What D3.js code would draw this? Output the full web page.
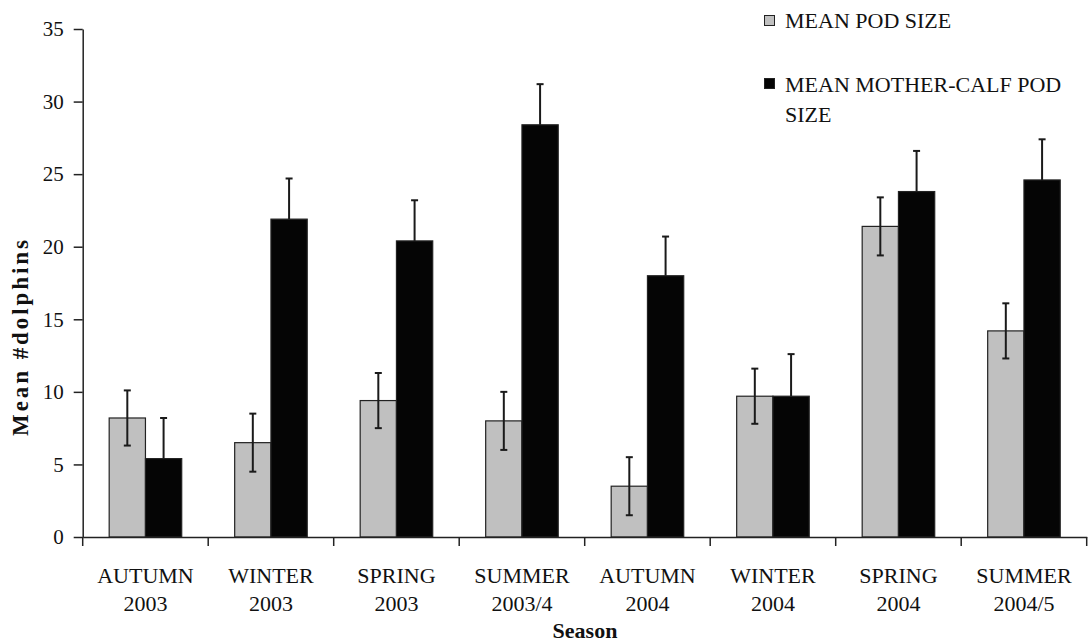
<!DOCTYPE html>
<html>
<head>
<meta charset="utf-8">
<script src="https://cdn.jsdelivr.net/npm/d3@7"></script>
<style>
  body { margin: 0; background: #fff; }
  svg { display: block; }
  svg text { font-family: "Liberation Serif", "DejaVu Serif", serif; }
</style>
</head>
<body>
<div id="chart"></div>
<script>
// seasons on the x axis (season + year, split onto two lines)
var categories = ["AUTUMN 2003", "WINTER 2003", "SPRING 2003", "SUMMER 2003/4",
                  "AUTUMN 2004", "WINTER 2004", "SPRING 2004", "SUMMER 2004/5"];
var seriesNames = ["MEAN POD SIZE", "MEAN MOTHER-CALF POD SIZE"];

// mean values
var podSize       = [8.2, 6.5, 9.4, 8.0, 3.5, 9.7, 21.4, 14.2];
var motherCalf    = [5.4, 21.9, 20.4, 28.4, 18.0, 9.7, 23.8, 24.6];
// error bar half widths
var podSizeErr    = [1.9, 2.0, 1.9, 2.0, 2.0, 1.9, 2.0, 1.9];
var motherCalfErr = [2.8, 2.8, 2.8, 2.8, 2.7, 2.9, 2.8, 2.8];

var yTicks = [0, 5, 10, 15, 20, 25, 30, 35];
var colors = ["#c0c0c0", "#050505"];

var width = 1092, height = 643;

var svg = d3.select("#chart").append("svg")
    .attr("width", width)
    .attr("height", height);

var yScale = d3.scaleLinear()
    .domain([0, 35])
    .range([537, 29]);

var x0 = d3.scaleBand()
    .domain(categories)
    .range([82.7, 1086.7])
    .padding(0);

var x1 = d3.scaleBand()
    .domain(seriesNames)
    .range([0, x0.bandwidth()])
    .paddingInner(0)
    .paddingOuter(0.73);

// build rows for the bars
var rows = [];
categories.forEach(function(c, i) {
    rows.push({cat: c, s: seriesNames[0], v: podSize[i], e: podSizeErr[i], k: 0});
    rows.push({cat: c, s: seriesNames[1], v: motherCalf[i], e: motherCalfErr[i], k: 1});
});

// bars
svg.append("g").selectAll("rect")
    .data(rows)
    .enter().append("rect")
    .attr("x", function(d) { return x0(d.cat) + x1(d.s); })
    .attr("y", function(d) { return yScale(d.v); })
    .attr("width", x1.bandwidth())
    .attr("height", function(d) { return yScale(0) - yScale(d.v); })
    .attr("fill", function(d) { return colors[d.k]; })
    .attr("stroke", "#222")
    .attr("stroke-width", 1.2);

// error bars (lower half of the black ones disappears into the bar)
var err = svg.append("g")
    .attr("stroke", "#1a1a1a")
    .attr("stroke-width", 2);

rows.forEach(function(d) {
    var cx = x0(d.cat) + x1(d.s) + x1.bandwidth() / 2;
    var top = yScale(d.v + d.e), bot = yScale(d.v - d.e);
    err.append("line").attr("x1", cx).attr("x2", cx).attr("y1", top)
        .attr("y2", d.k == 1 ? yScale(d.v) : bot);
    err.append("line").attr("x1", cx - 3.5).attr("x2", cx + 3.5).attr("y1", top).attr("y2", top);
    if (d.k == 0) {
        err.append("line").attr("x1", cx - 3.5).attr("x2", cx + 3.5).attr("y1", bot).attr("y2", bot);
    }
});

// y axis
var yAxis = svg.append("g")
    .attr("transform", "translate(82.7,0)")
    .call(d3.axisLeft(yScale).tickValues(yTicks).tickSize(9).tickSizeOuter(0).tickPadding(10));
yAxis.attr("font-family", null);
yAxis.selectAll("text")
    .style("font-size", "21px")
    .style("font-family", "'Liberation Serif', serif")
    .attr("fill", "#111");
yAxis.selectAll("line, path").attr("stroke", "#222").attr("stroke-width", 1.5);

// x axis (labels centred in bands, ticks at band edges)
var xAxis = svg.append("g")
    .attr("transform", "translate(0," + yScale(0) + ")")
    .call(d3.axisBottom(x0).tickSize(0).tickSizeOuter(0).tickPadding(0));
xAxis.attr("font-family", null);
xAxis.select("path").attr("stroke", "#222").attr("stroke-width", 1.5);
xAxis.selectAll("text").each(function(d) {
    var parts = d.split(" ");
    var t = d3.select(this).text(null)
        .style("font-size", "22px")
        .style("font-family", "'Liberation Serif', serif")
        .attr("fill", "#111")
        .attr("dy", null)
        .attr("y", 46);
    t.append("tspan").attr("x", 0).attr("y", 46).text(parts[0]);
    t.append("tspan").attr("x", 0).attr("y", 74).text(parts[1]);
});

var edges = categories.map(function(c) { return x0(c); }).concat([x0.range()[1]]);
svg.append("g").selectAll("line")
    .data(edges)
    .enter().append("line")
    .attr("x1", function(d) { return d; })
    .attr("x2", function(d) { return d; })
    .attr("y1", yScale(0))
    .attr("y2", yScale(0) + 9)
    .attr("stroke", "#222")
    .attr("stroke-width", 1.5);

// axis titles
svg.append("text")
    .attr("x", 585)
    .attr("y", 638)
    .attr("text-anchor", "middle")
    .style("font-size", "22px")
    .attr("font-weight", "bold")
    .attr("fill", "#111")
    .text("Season");

svg.append("text")
    .attr("transform", "translate(28,338) rotate(-90)")
    .attr("text-anchor", "middle")
    .style("font-size", "23px")
    .attr("font-weight", "bold")
    .attr("fill", "#111")
    .attr("textLength", 196)
    .attr("lengthAdjust", "spacing")
    .text("Mean #dolphins");

// legend
var legend = svg.append("g");
legend.append("rect").attr("x", 764.5).attr("y", 15.5).attr("width", 10).attr("height", 10)
    .attr("fill", colors[0]).attr("stroke", "#222");
legend.append("text").attr("x", 785).attr("y", 28).style("font-size", "22px").attr("fill", "#111")
    .text(seriesNames[0]);
legend.append("rect").attr("x", 764.5).attr("y", 78.5).attr("width", 10).attr("height", 10)
    .attr("fill", colors[1]).attr("stroke", "#222");
var l2 = legend.append("text").style("font-size", "22px").attr("fill", "#111");
l2.append("tspan").attr("x", 785).attr("y", 92).text("MEAN MOTHER-CALF POD");
l2.append("tspan").attr("x", 785).attr("y", 122).text("SIZE");
</script>
</body>
</html>
